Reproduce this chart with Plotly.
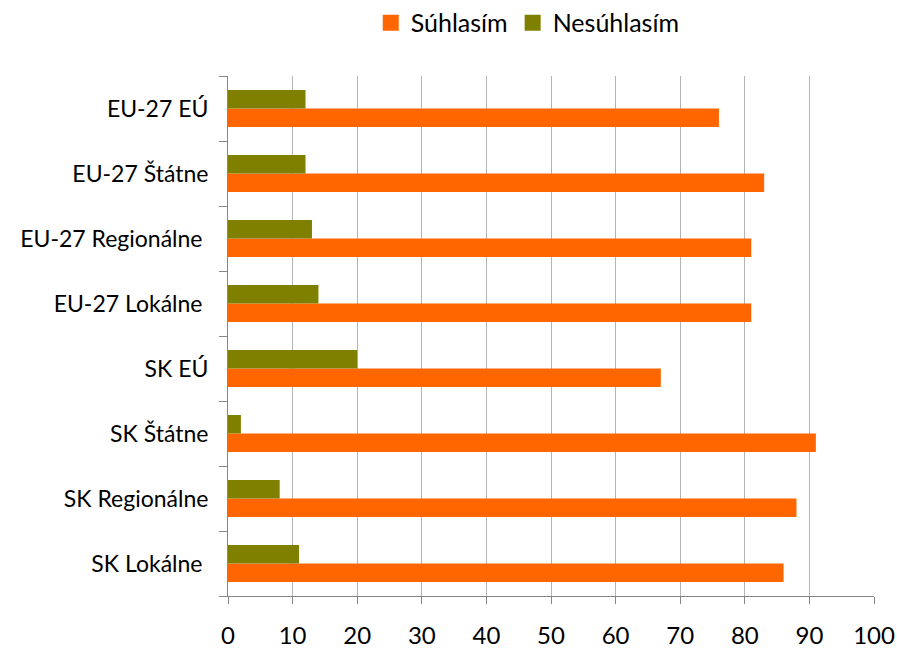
import plotly.graph_objects as go

categories = ["SK Lokálne\u00a0", "SK Regionálne", "SK Štátne", "SK EÚ",
              "EU-27 Lokálne\u00a0", "EU-27 Regionálne\u00a0", "EU-27 Štátne", "EU-27 EÚ"]
suhlasim = [86, 88, 91, 67, 81, 81, 83, 76]
nesuhlasim = [11, 8, 2, 20, 14, 13, 12, 12]
x_ticks = [0, 10, 20, 30, 40, 50, 60, 70, 80, 90, 100]
series_names = ["Súhlasím", "Nesúhlasím"]
series_colors = ["#FF6600", "#808000"]

FONT = "Lato"
fig = go.Figure()
for vals, name, col in zip([suhlasim, nesuhlasim], series_names, series_colors):
    fig.add_trace(go.Bar(y=categories, x=vals, name=name, orientation="h", showlegend=False,
                         marker=dict(color=col, line=dict(width=0))))
for name, col in zip(series_names, series_colors):
    fig.add_trace(go.Scatter(x=[None], y=[None], mode="markers", name=name,
                             marker=dict(symbol="square", size=17, color=col, line=dict(width=0))))

fig.update_layout(
    width=897, height=648,
    margin=dict(l=228, r=23, t=76, b=52, autoexpand=False),
    paper_bgcolor="white", plot_bgcolor="white",
    barmode="group", bargap=0.43, bargroupgap=0,
    font=dict(family=FONT, color="black", size=23),
    legend=dict(orientation="h", x=0.464, xanchor="center", y=1.102, yanchor="middle",
                font=dict(size=25, family=FONT), traceorder="normal", itemsizing="trace"),
    xaxis=dict(range=[0, 100], tickvals=x_ticks, showgrid=True, gridcolor="#B3B3B3", gridwidth=1,
               showline=True, linecolor="#868686", linewidth=1, ticks="outside", ticklen=7,
               tickcolor="#868686", tickfont=dict(size=24, family=FONT), ticklabelstandoff=11,
               zeroline=False, automargin=False),
    yaxis=dict(categoryorder="array", categoryarray=categories, showline=True, linecolor="#868686",
               linewidth=1, ticks="outside", ticklen=8, tickcolor="#868686", tickson="boundaries",
               tickfont=dict(size=23, family=FONT), ticklabelstandoff=14, showgrid=False,
               automargin=False),
)
fig.write_html("out.html", config={"displayModeBar": False},
               post_script="document.body.style.margin='0';document.body.style.overflow='hidden';")
